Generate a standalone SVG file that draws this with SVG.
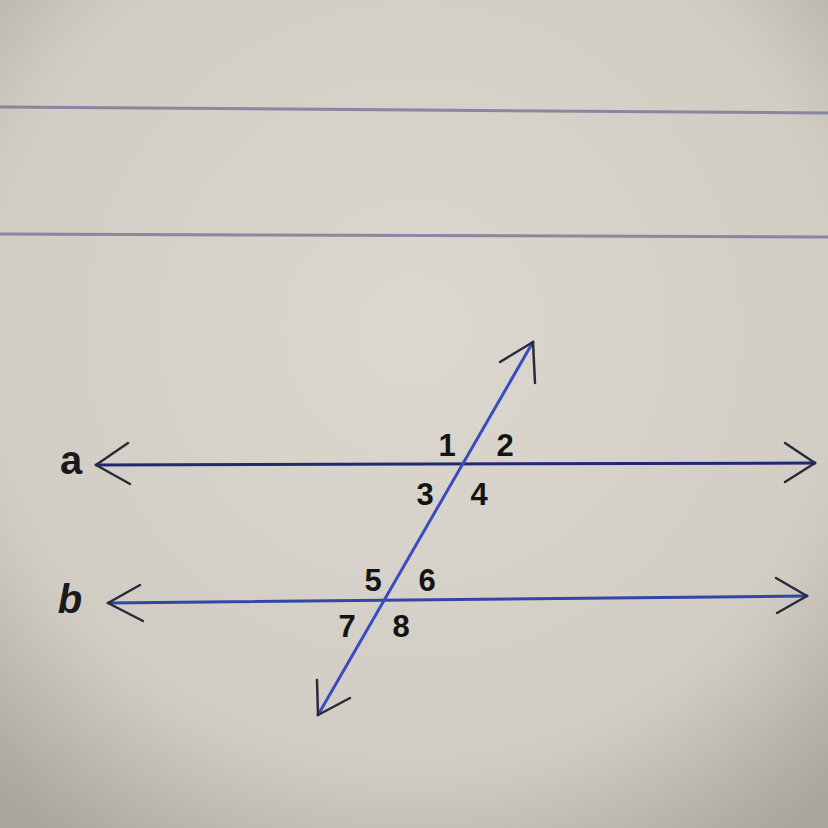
<svg xmlns="http://www.w3.org/2000/svg" width="828" height="828" viewBox="0 0 828 828">
<defs>
<radialGradient id="bg" cx="0.5" cy="0.4" r="0.75">
<stop offset="0" stop-color="#dcd8cf"/>
<stop offset="0.7" stop-color="#d2cdc4"/>
<stop offset="1" stop-color="#a9a59f"/>
</radialGradient>
<style>
.rule{stroke:#6e6f94;stroke-width:3;fill:none;opacity:0.75}
.ln{fill:none;stroke-width:3;stroke-linecap:round}
.head{fill:none;stroke:#2a2a3a;stroke-width:2.5;stroke-linecap:round;stroke-linejoin:round}
.num{font-family:"Liberation Sans",Arial,sans-serif;font-weight:bold;font-size:31px;fill:#141414;text-anchor:middle}
.lab{font-family:"Liberation Sans",Arial,sans-serif;font-weight:bold;font-size:40px;fill:#1a1a1a;text-anchor:middle}
</style>
</defs>
<rect width="828" height="828" fill="url(#bg)"/>
<path class="rule" d="M0 107 L828 113"/>
<path class="rule" d="M0 234 L828 237"/>
<g id="connectors">
<g id="line-a">
<path class="ln" stroke="#1f2a70" d="M96 465 L815 463"/>
<path class="head" d="M128 443 L96 465 L130 484"/>
<path class="head" d="M785 443 L815 463 L785 482"/>
</g>
<g id="line-b">
<path class="ln" stroke="#3346a8" d="M108 603 L807 596"/>
<path class="head" d="M140 585 L108 603 L143 621"/>
<path class="head" d="M776 578 L807 596 L777 613"/>
</g>
<g id="transversal">
<path class="ln" stroke="#3a4cc0" d="M533 342 L318 715"/>
<path class="head" d="M500 362 L533 342 L535 383"/>
<path class="head" d="M317 680 L318 715 L350 698"/>
</g>
</g>
<g id="label-a"><text class="lab" x="71" y="474">a</text></g>
<g id="label-b"><text class="lab" x="70" y="613" font-style="italic">b</text></g>
<g id="angles">
<text class="num" x="447" y="456">1</text>
<text class="num" x="505" y="456">2</text>
<text class="num" x="425" y="505">3</text>
<text class="num" x="479" y="505">4</text>
<text class="num" x="373" y="591">5</text>
<text class="num" x="427" y="591">6</text>
<text class="num" x="347" y="637">7</text>
<text class="num" x="401" y="637">8</text>
</g>
</svg>
